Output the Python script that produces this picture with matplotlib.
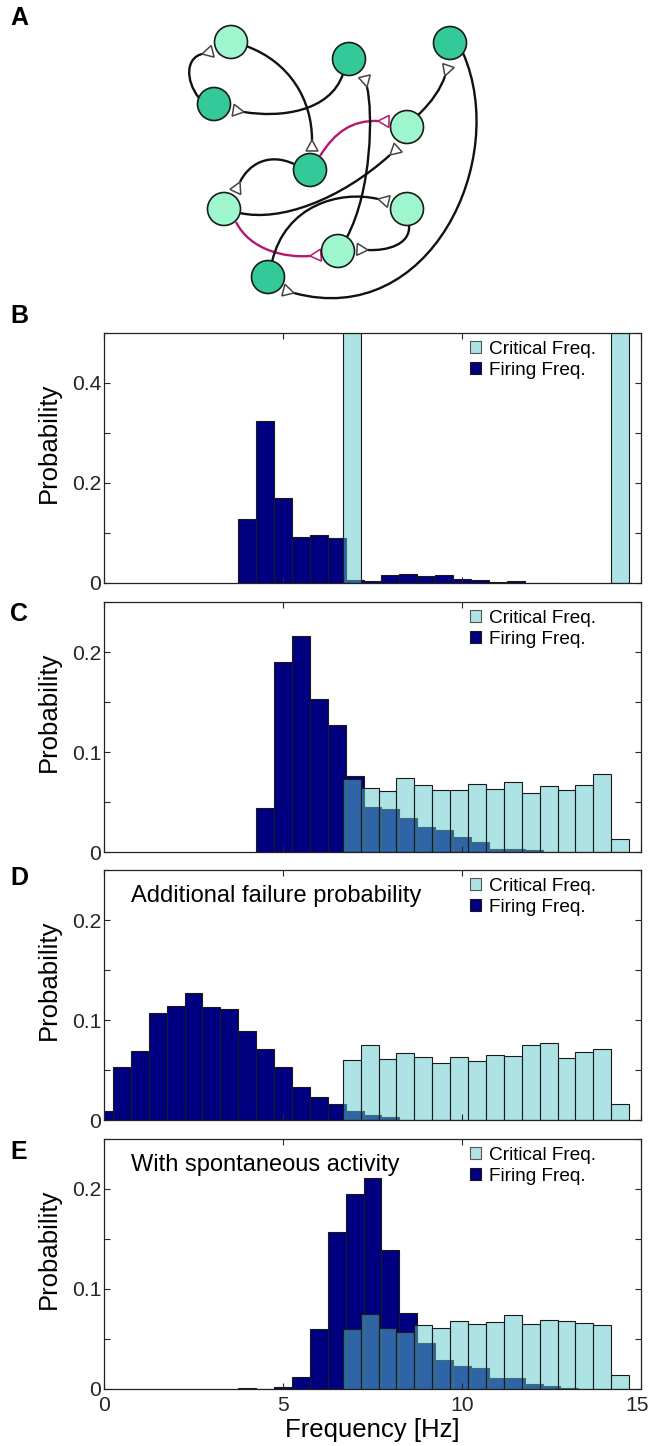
import numpy as np
import matplotlib
matplotlib.use('Agg')
import matplotlib.pyplot as plt
import matplotlib.transforms as mtransforms
from matplotlib.patches import Circle, Polygon, PathPatch, Patch
from matplotlib.path import Path

plt.rcParams['font.family'] = ['Liberation Sans', 'DejaVu Sans']

# ---- histogram data (probability per 0.5 Hz bin) ----
bin_w = 0.5
crit_start = 6.92  # centre of first critical-frequency bin

# B
b_fire_start = 4.0
b_fire = [0.129, 0.324, 0.170, 0.093, 0.097, 0.090, 0.007, 0.005, 0.017,
          0.019, 0.015, 0.016, 0.008, 0.007, 0.003, 0.005, 0.001, 0.001]
b_crit_x = [6.92, 14.42]
b_crit = [0.5, 0.5]

# C
c_fire_start = 4.5
c_fire = [0.044, 0.190, 0.216, 0.153, 0.127, 0.076, 0.045, 0.043, 0.034,
          0.025, 0.022, 0.015, 0.010, 0.003, 0.003, 0.002]
c_crit = [0.073, 0.064, 0.061, 0.074, 0.067, 0.062, 0.062, 0.068,
          0.063, 0.070, 0.059, 0.066, 0.062, 0.067, 0.078, 0.013]

# D
d_fire_start = 0.0
d_fire = [0.009, 0.053, 0.069, 0.107, 0.114, 0.127, 0.113, 0.111, 0.089,
          0.071, 0.053, 0.033, 0.023, 0.016, 0.009, 0.005, 0.003]
d_crit = [0.060, 0.075, 0.061, 0.067, 0.063, 0.057, 0.063, 0.059,
          0.065, 0.064, 0.075, 0.077, 0.062, 0.068, 0.071, 0.016]

# E
e_fire_start = 4.0
e_fire = [0.001, 0.0, 0.002, 0.012, 0.060, 0.157, 0.195, 0.211, 0.139,
          0.076, 0.046, 0.029, 0.023, 0.021, 0.011, 0.011, 0.005, 0.003, 0.001]
e_crit = [0.060, 0.075, 0.061, 0.057, 0.064, 0.061, 0.068, 0.065,
          0.067, 0.074, 0.065, 0.069, 0.068, 0.066, 0.064, 0.014]

# ---- network sketch (panel A), pixel coordinates ----
node_x = [231, 349, 450, 214, 407, 310, 224, 407, 338, 268]
node_y = [42, 59, 43, 104, 127, 170, 209, 209, 251, 277]
node_dark = [0, 1, 1, 1, 0, 1, 0, 0, 0, 1]

# cubic curves: start, ctrl1, ctrl2, end(arrow apex), colour
edges = [
    [(246, 46), (290, 62), (312, 100), (312, 140), 'k'],
    [(199, 98), (185, 80), (186, 58), (202, 54), 'k'],
    [(343, 74), (330, 112), (280, 118), (244, 112), 'k'],
    [(320, 156), (335, 132), (352, 120), (378, 121), 'm'],
    [(294, 164), (268, 152), (248, 165), (240, 182), 'k'],
    [(240, 213), (280, 222), (340, 200), (390, 155), 'k'],
    [(236, 222), (250, 250), (285, 258), (310, 256), 'm'],
    [(347, 237), (372, 190), (373, 112), (367, 87), 'k'],
    [(272, 262), (285, 205), (340, 190), (378, 199), 'k'],
    [(409, 225), (411, 245), (386, 251), (368, 250), 'k'],
    [(418, 115), (432, 102), (441, 88), (445, 76), 'k'],
    [(463, 53), (510, 160), (430, 330), (294, 293), 'k'],
]

NAVY = '#000080'
LIGHT = (0.37, 0.79, 0.80, 0.5)
EDGE = '#1a1a1a'
TXT = '#262626'

fig = plt.figure(figsize=(6.5, 14.46), dpi=100)
W, H = 650.0, 1446.0

# ---- panel A ----
ax0 = fig.add_axes([0, 1 - 300 / H, 1, 300 / H])
ax0.set_xlim(0, 650)
ax0.set_ylim(300, 0)
ax0.axis('off')
for p0, p1, p2, p3, col in edges:
    c = '#111111' if col == 'k' else '#b3186f'
    path = Path([p0, p1, p2, p3], [Path.MOVETO, Path.CURVE4, Path.CURVE4, Path.CURVE4])
    ax0.add_patch(PathPatch(path, fc='none', ec=c, lw=1.7, zorder=1))
    d = np.array(p3, float) - np.array(p2, float)
    d /= np.hypot(*d)
    n = np.array([-d[1], d[0]])
    apex = np.array(p3, float)
    base = apex + d * 11
    tri = [apex, base + n * 6, base - n * 6]
    ec = '#444444' if col == 'k' else '#b3186f'
    ax0.add_patch(Polygon(tri, closed=True, fc='white', ec=ec, lw=1.1, zorder=2))
for x, y, dk in zip(node_x, node_y, node_dark):
    fc = '#33c999' if dk else '#9ef6cf'
    ax0.add_patch(Circle((x, y), 16.5, fc=fc, ec='#1a1a1a', lw=1.2, zorder=3))


def panel(top_px, fire_start, fire, crit_x, crit, ymax, note=None, last=False):
    ax = fig.add_axes([104 / W, 1 - (top_px + 250) / H, 537 / W, 250 / H])
    fx = fire_start + bin_w * np.arange(len(fire))
    ax.bar(fx, fire, width=bin_w, color=NAVY, edgecolor=EDGE, lw=0.8, zorder=1)
    ax.bar(crit_x, crit, width=bin_w, color=LIGHT, edgecolor=EDGE, lw=0.8, zorder=1.1)
    ax.set_xlim(0, 15)
    ax.set_ylim(0, ymax)
    if ymax > 0.3:
        yt = [0, 0.1, 0.2, 0.3, 0.4, 0.5]
        yl = ['0', '', '0.2', '', '0.4', '']
    else:
        yt = [0, 0.05, 0.1, 0.15, 0.2, 0.25]
        yl = ['0', '', '0.1', '', '0.2', '']
    ax.set_yticks(yt)
    ax.set_yticklabels(yl)
    ax.set_xticks([0, 5, 10, 15])
    if last:
        ax.set_xticklabels(['0', '5', '10', '15'])
        ax.set_xlabel('Frequency [Hz]', fontsize=18.5, labelpad=2)
    else:
        ax.set_xticklabels([])
    ax.tick_params(direction='in', top=True, right=True, length=4, width=0.8,
                   labelsize=15.2, colors=TXT, labelcolor=TXT)
    ax.tick_params(axis='y', pad=2)
    ax.tick_params(axis='x', pad=5)
    if last:
        lab = ax.get_xticklabels()[-1]
        lab.set_transform(lab.get_transform() +
                          mtransforms.ScaledTranslation(-4 / 100, 0, fig.dpi_scale_trans))
    for s in ax.spines.values():
        s.set_linewidth(0.9)
        s.set_color('#222222')
    ax.set_ylabel('Probability', fontsize=18.5)
    ax.yaxis.set_label_coords(-0.08, 0.56)
    handles = [Patch(fc=LIGHT, ec='#555555', lw=0.8, label='Critical Freq.'),
               Patch(fc=NAVY, ec=EDGE, lw=0.8, label='Firing Freq.')]
    ax.legend(handles=handles, loc='upper left', bbox_to_anchor=(0.6816, 0.968),
              frameon=False, fontsize=13.7, borderpad=0, borderaxespad=0,
              handlelength=0.6, handleheight=0.6, handletextpad=0.4,
              labelspacing=0.2)
    if note:
        ax.text(0.75, 0.224, note, fontsize=17, va='center', ha='left')
    return ax


crit_x = crit_start + bin_w * np.arange(16)
panel(333, b_fire_start, b_fire, b_crit_x, b_crit, 0.5)
panel(602, c_fire_start, c_fire, crit_x, c_crit, 0.25)
panel(870, d_fire_start, d_fire, crit_x, d_crit, 0.25, note='Additional failure probability')
panel(1139, e_fire_start, e_fire, crit_x, e_crit, 0.25, note='With spontaneous activity', last=True)

for letter, y in zip('ABCDE', [18, 316, 614, 878, 1152]):
    fig.text(10 / W, 1 - y / H, letter, fontsize=18, fontweight='bold', va='center', ha='left')

fig.savefig('out.png', dpi=100)
